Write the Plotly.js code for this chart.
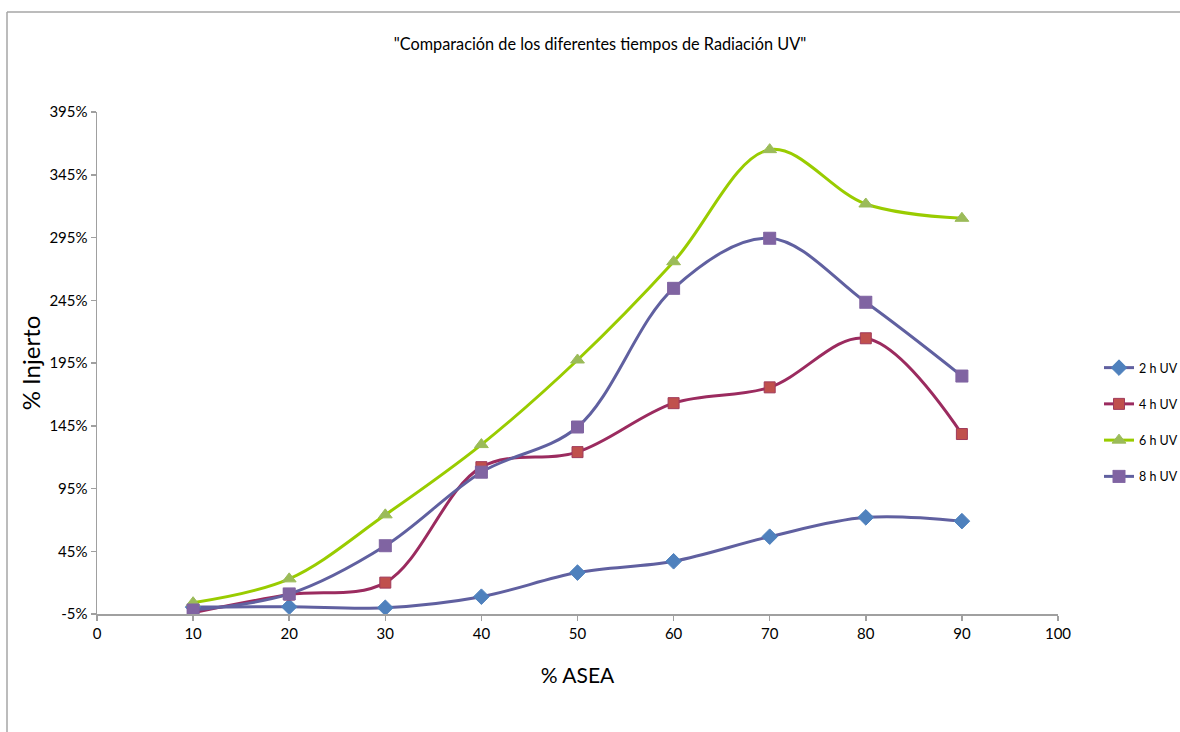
<!DOCTYPE html>
<html>
<head>
<meta charset="utf-8">
<script src="https://cdn.plot.ly/plotly-3.0.1.min.js"></script>
<style>
  html, body { margin: 0; padding: 0; background: #ffffff; }
  #chart { width: 1180px; height: 732px; }
</style>
</head>
<body>
<div id="chart"></div>
<script>
const asea = [10, 20, 30, 40, 50, 60, 70, 80, 90];
const seriesNames = ["2 h UV", "4 h UV", "6 h UV", "8 h UV"];
const uv2h = [0.5, 0.8, 0.0, 8.8, 28, 37, 56.6, 72, 69];
const uv4h = [-4, 10.5, 20, 112, 124, 163, 175.6, 214.7, 138.4];
const uv6h = [4, 23, 74, 130, 197.4, 275.7, 365, 321.7, 310.3];
const uv8h = [-1.8, 11, 49.4, 108, 144, 254.5, 294.4, 243.4, 184.6];
const yTicks = [-5, 45, 95, 145, 195, 245, 295, 345, 395];
const yTickText = ["-5%", "45%", "95%", "145%", "195%", "245%", "295%", "345%", "395%"];
const xTicks = [0, 10, 20, 30, 40, 50, 60, 70, 80, 90, 100];

const FONT = "Lato, 'Liberation Sans', Arial, sans-serif";

const styles = [
  { line: "#6060A0", marker: "#4F81BD", mline: "#4F81BD", symbol: "diamond", size: 12 },
  { line: "#9B2B5F", marker: "#C0504D", mline: "#A03A5A", symbol: "square", size: 11 },
  { line: "#99CC00", marker: "#9BBB59", mline: "#9BBB59", symbol: "triangle-up", size: 12 },
  { line: "#6060A0", marker: "#8064A2", mline: "#8064A2", symbol: "square-x", size: 12 }
];
const values = [uv2h, uv4h, uv6h, uv8h];

const traces = values.map((v, i) => ({
  x: asea,
  y: v,
  name: seriesNames[i],
  legendgroup: "g" + i,
  type: "scatter",
  mode: "lines+markers",
  line: { color: styles[i].line, width: 3, shape: "spline", smoothing: 1 },
  marker: { color: styles[i].marker, symbol: styles[i].symbol, size: styles[i].size,
            line: { color: styles[i].mline, width: 1 } }
}));

const W = 1180, H = 732, L = 97, R = 122, T = 112, B = 118;
const pw = W - L - R, ph = H - T - B;
const px = x => (x - L) / pw;
const py = y => (H - B - y) / ph;

const layout = {
  width: W, height: H,
  margin: { l: L, r: R, t: T, b: B, autoexpand: false },
  paper_bgcolor: "#ffffff",
  plot_bgcolor: "#ffffff",
  font: { family: FONT, color: "#000000", size: 15 },
  title: {
    text: '"Comparación de los diferentes tiempos de Radiación UV"',
    font: { family: FONT, size: 16.3, color: "#000000" },
    x: px(600), xanchor: "center", xref: "paper",
    y: 1 - 44 / H, yanchor: "middle", yref: "container"
  },
  xaxis: {
    range: [0, 100],
    tickvals: xTicks,
    ticktext: xTicks.map(String),
    showgrid: false, zeroline: false,
    showline: true, linecolor: "#A0A0A0", linewidth: 1.5,
    ticks: "outside", ticklen: 5, tickcolor: "#A0A0A0", tickwidth: 1.5,
    tickfont: { family: FONT, size: 15, color: "#000000" },
    title: { text: "% ASEA", font: { family: FONT, size: 21, color: "#000000" }, standoff: 28 }
  },
  yaxis: {
    range: [-5, 395],
    tickvals: yTicks,
    ticktext: yTickText,
    showgrid: false, zeroline: false,
    showline: true, linecolor: "#A0A0A0", linewidth: 1.5,
    ticks: "outside", ticklen: 5, tickcolor: "#A0A0A0", tickwidth: 1.5,
    tickfont: { family: FONT, size: 15, color: "#000000" },
    title: { text: "% Injerto", font: { family: FONT, size: 24, color: "#000000" }, standoff: 2 }
  },
  legend: {
    x: px(1099), xanchor: "left",
    y: py(422), yanchor: "middle",
    traceorder: "grouped",
    tracegroupgap: 17,
    font: { family: FONT, size: 12.5, color: "#000000" },
    bgcolor: "rgba(0,0,0,0)",
    itemwidth: 30
  },
  shapes: [
    { type: "line", xref: "paper", yref: "paper", x0: px(7), x1: px(1200), y0: py(12), y1: py(12),
      line: { color: "#A6A6A6", width: 1.5 } },
    { type: "line", xref: "paper", yref: "paper", x0: px(7), x1: px(7), y0: py(12), y1: py(760),
      line: { color: "#A6A6A6", width: 1.5 } }
  ],
  showlegend: true
};

Plotly.newPlot("chart", traces, layout, { displayModeBar: false, staticPlot: true });
</script>
</body>
</html>
